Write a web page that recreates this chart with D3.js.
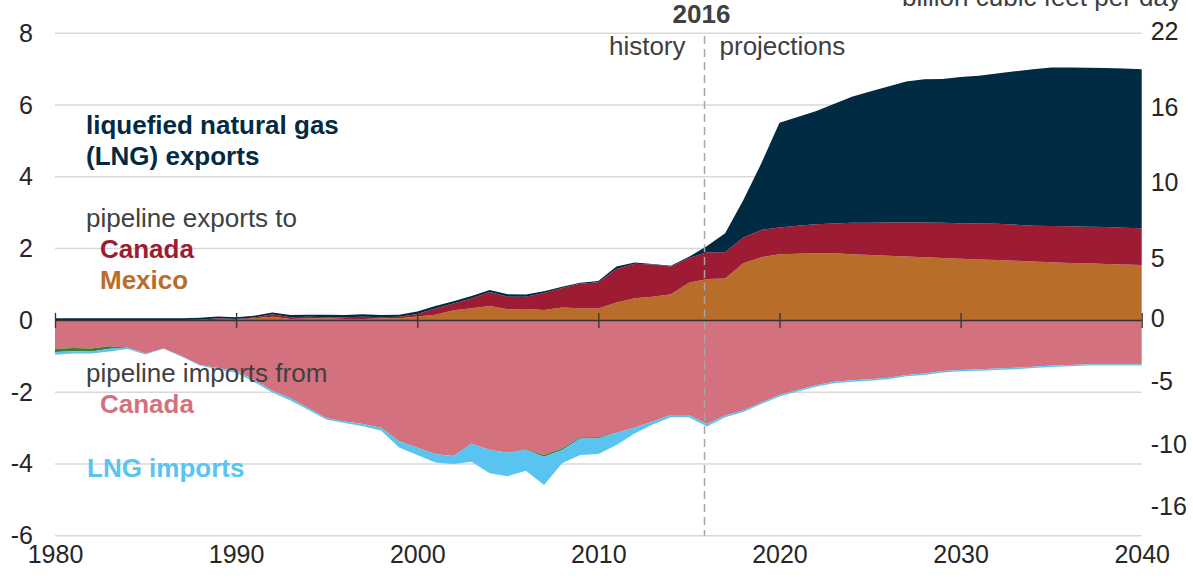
<!DOCTYPE html>
<html>
<head>
<meta charset="utf-8">
<script src="https://cdn.jsdelivr.net/npm/d3@7"></script>
<style>
  body { margin: 0; background: #fff; }
  text { font-family: "Liberation Sans", Arial, sans-serif; }
</style>
</head>
<body>
<svg id="chart" width="1193" height="580"></svg>
<script>
// U.S. natural gas trade, trillion cubic feet per year (history to 2016, projections to 2040)
const years = d3.range(1980, 2041);

const mexicoExports = [
  0.00,0.00,0.00,0.00,0.00,0.00,0.00,0.00,0.00,0.02,
  0.02,0.06,0.10,0.04,0.05,0.06,0.04,0.04,0.05,0.06,
  0.11,0.16,0.28,0.34,0.40,0.31,0.32,0.29,0.36,0.34,
  0.33,0.50,0.62,0.66,0.73,1.05,1.15,1.17,1.59,1.76,
  1.84,1.86,1.87,1.87,1.84,1.82,1.80,1.78,1.76,1.74,
  1.72,1.70,1.68,1.66,1.64,1.62,1.60,1.59,1.57,1.56,
  1.54];

const canadaExports = [
  0.01,0.01,0.01,0.01,0.01,0.01,0.01,0.01,0.02,0.04,
  0.02,0.02,0.07,0.05,0.05,0.03,0.05,0.06,0.04,0.04,
  0.07,0.17,0.19,0.27,0.39,0.35,0.34,0.47,0.54,0.68,
  0.73,0.93,0.96,0.90,0.77,0.69,0.75,0.73,0.72,0.76,
  0.75,0.78,0.81,0.83,0.88,0.90,0.93,0.95,0.97,0.98,
  0.99,1.00,1.01,1.01,1.00,1.01,1.02,1.02,1.03,1.02,
  1.03];

const lngExports = [
  0.05,0.05,0.05,0.05,0.05,0.05,0.05,0.05,0.05,0.05,
  0.05,0.05,0.05,0.06,0.06,0.07,0.06,0.07,0.06,0.06,
  0.07,0.07,0.06,0.07,0.06,0.07,0.06,0.05,0.04,0.03,
  0.04,0.07,0.03,0.01,0.02,0.03,0.17,0.53,1.04,1.86,
  2.92,3.03,3.15,3.33,3.51,3.66,3.79,3.93,3.99,4.01,
  4.07,4.12,4.19,4.27,4.36,4.42,4.43,4.43,4.43,4.44,
  4.43];

const canadaImports = [
  0.80,0.77,0.78,0.72,0.76,0.92,0.78,1.00,1.24,1.33,
  1.40,1.66,1.96,2.17,2.45,2.73,2.82,2.89,2.99,3.37,
  3.54,3.72,3.78,3.44,3.61,3.68,3.60,3.75,3.57,3.26,
  3.26,3.13,2.99,2.82,2.64,2.64,2.89,2.65,2.51,2.29,
  2.08,1.94,1.81,1.71,1.67,1.64,1.60,1.52,1.48,1.41,
  1.38,1.36,1.34,1.32,1.29,1.26,1.24,1.22,1.22,1.22,
  1.22];

const mexicoImports = [
  0.08,0.09,0.09,0.07,0.00,0.00,0.00,0.00,0.00,0.00,
  0.00,0.00,0.00,0.00,0.00,0.00,0.00,0.00,0.00,0.00,
  0.01,0.01,0.00,0.00,0.00,0.01,0.01,0.05,0.04,0.03,
  0.03,0.00,0.00,0.00,0.00,0.00,0.00,0.00,0.00,0.00,
  0.00,0.00,0.00,0.00,0.00,0.00,0.00,0.00,0.00,0.00,
  0.00,0.00,0.00,0.00,0.00,0.00,0.00,0.00,0.00,0.00,
  0.00];

const lngImports = [
  0.08,0.06,0.05,0.08,0.04,0.03,0.01,0.01,0.02,0.04,
  0.06,0.06,0.05,0.06,0.05,0.04,0.04,0.06,0.08,0.17,
  0.20,0.23,0.22,0.50,0.65,0.65,0.58,0.79,0.37,0.46,
  0.43,0.34,0.16,0.08,0.06,0.06,0.07,0.05,0.04,0.04,
  0.04,0.04,0.04,0.04,0.04,0.04,0.04,0.04,0.04,0.04,
  0.04,0.04,0.04,0.04,0.04,0.04,0.04,0.04,0.04,0.04,
  0.04];

// Axis ticks
const leftTicks = [-6, -4, -2, 0, 2, 4, 6, 8];
const xTicks = [1980, 1990, 2000, 2010, 2020, 2030, 2040];
// Right-hand labels in billion cubic feet per day, with the trillion-cubic-feet level each sits beside
const rightTicks = [22, 16, 10, 5, 0, -5, -10, -16];
const rightTickTcf = [8.04, 5.94, 3.84, 1.73, 0.06, -1.70, -3.47, -5.19];
const splitYear = 2016;

// Exports stack upward from zero, imports stack downward
const exportSeries = [
  { key: "mexExp", values: mexicoExports, color: "#b96d2b" },
  { key: "canExp", values: canadaExports, color: "#9e1c33" },
  { key: "lngExp", values: lngExports,    color: "#012b43" }
];
const importSeries = [
  { key: "canImp", values: canadaImports.map(v => -v), color: "#d4717e" },
  { key: "mexImp", values: mexicoImports.map(v => -v), color: "#3d7b37" },
  { key: "lngImp", values: lngImports.map(v => -v),    color: "#59c4f0" }
];
const allSeries = exportSeries.concat(importSeries);

const rows = years.map((yr, i) => {
  const r = { year: yr };
  allSeries.forEach(s => r[s.key] = s.values[i]);
  return r;
});

const svg = d3.select("#chart");
const margin = { left: 55, right: 1141.7, top: 33.3, bottom: 535.7 };

const x = d3.scaleLinear().domain([1980, 2040]).range([margin.left, margin.right]);
const y = d3.scaleLinear().domain([-6, 8]).range([margin.bottom, margin.top]);
const yRight = d3.scaleLinear().domain(rightTicks).range(rightTickTcf.map(v => y(v)));
const plainNum = d => String(d);

// Gridlines
svg.append("g")
  .selectAll("line")
  .data(leftTicks.filter(d => d !== 0))
  .join("line")
  .attr("x1", margin.left).attr("x2", margin.right)
  .attr("y1", d => y(d)).attr("y2", d => y(d))
  .attr("stroke", "#d9d9d9").attr("stroke-width", 1.5);

// Stacked areas
const area = d3.area()
  .x(d => x(d.data.year))
  .y0(d => y(d[0]))
  .y1(d => y(d[1]));

function drawStack(list) {
  const layers = d3.stack().keys(list.map(s => s.key)).offset(d3.stackOffsetNone)(rows);
  svg.append("g")
    .selectAll("path")
    .data(layers)
    .join("path")
    .attr("d", area)
    .attr("fill", (d, i) => list[i].color);
}
drawStack(exportSeries);
drawStack(importSeries);

// Left axis labels
const leftAxis = svg.append("g")
  .attr("transform", `translate(${margin.left},0)`)
  .call(d3.axisLeft(y).tickValues(leftTicks).tickFormat(plainNum).tickSize(0).tickPadding(22));
leftAxis.select(".domain").remove();
leftAxis.selectAll("text").attr("font-size", 25).attr("fill", "#262626")
  .attr("font-family", "Liberation Sans, Arial, sans-serif");

// Right axis labels
const rightAxis = svg.append("g")
  .attr("transform", `translate(${margin.right},0)`)
  .call(d3.axisRight(yRight).tickValues(rightTicks).tickFormat(plainNum).tickSize(0).tickPadding(9));
rightAxis.select(".domain").remove();
rightAxis.selectAll("text").attr("font-size", 25).attr("fill", "#262626")
  .attr("font-family", "Liberation Sans, Arial, sans-serif");

// Year labels under the plot
const bottomAxis = svg.append("g")
  .attr("transform", `translate(0,${margin.bottom})`)
  .call(d3.axisBottom(x).tickValues(xTicks).tickFormat(plainNum).tickSize(0).tickPadding(10));
bottomAxis.select(".domain").remove();
bottomAxis.selectAll("text").attr("font-size", 25).attr("fill", "#262626")
  .attr("font-family", "Liberation Sans, Arial, sans-serif");

// Zero line with decade ticks crossing it
const zeroAxis = svg.append("g")
  .attr("transform", `translate(0,${y(0) + 7.5})`)
  .call(d3.axisBottom(x).tickValues(xTicks).tickFormat("").tickSizeInner(-15).tickSizeOuter(0));
zeroAxis.select(".domain").remove();
zeroAxis.selectAll("line").attr("stroke", "#333").attr("stroke-width", 1.3);
svg.append("line")
  .attr("x1", margin.left).attr("x2", margin.right)
  .attr("y1", y(0)).attr("y2", y(0))
  .attr("stroke", "#333").attr("stroke-width", 1.5);

// History / projections divider
const xs = x(splitYear) - 2.5;
svg.append("line")
  .attr("x1", xs).attr("x2", xs)
  .attr("y1", 36).attr("y2", margin.bottom)
  .attr("stroke", "#a6a6a6").attr("stroke-width", 1.5)
  .attr("stroke-dasharray", "8,5");

svg.append("text").attr("x", xs - 3).attr("y", 23)
  .attr("text-anchor", "middle").attr("font-size", 26).attr("font-weight", "bold")
  .attr("fill", "#404040").text(splitYear);
svg.append("text").attr("x", xs - 19).attr("y", 55)
  .attr("text-anchor", "end").attr("font-size", 26).attr("fill", "#404040").text("history");
svg.append("text").attr("x", xs + 15).attr("y", 55)
  .attr("text-anchor", "start").attr("font-size", 26).attr("fill", "#404040").text("projections");

svg.append("text").attr("x", 1181).attr("y", 6)
  .attr("text-anchor", "end").attr("font-size", 26).attr("fill", "#404040")
  .text("billion cubic feet per day");

// Series labels
const labels = [
  { text: "liquefied natural gas", x: 86, y: 133.5, color: "#012b43", bold: true },
  { text: "(LNG) exports",         x: 86, y: 164.5, color: "#012b43", bold: true },
  { text: "pipeline exports to",   x: 86, y: 227,   color: "#404040", bold: false },
  { text: "Canada",                x: 100, y: 258,  color: "#9e1c33", bold: true },
  { text: "Mexico",                x: 100, y: 289,  color: "#b96d2b", bold: true },
  { text: "pipeline imports from", x: 86, y: 381.5, color: "#404040", bold: false },
  { text: "Canada",                x: 100, y: 413,  color: "#d4717e", bold: true },
  { text: "LNG imports",           x: 87, y: 476.5, color: "#59c4f0", bold: true }
];
svg.append("g")
  .selectAll("text")
  .data(labels)
  .join("text")
  .attr("x", d => d.x).attr("y", d => d.y)
  .attr("font-size", 26)
  .attr("font-weight", d => d.bold ? "bold" : "normal")
  .attr("fill", d => d.color)
  .text(d => d.text);
</script>
</body>
</html>
